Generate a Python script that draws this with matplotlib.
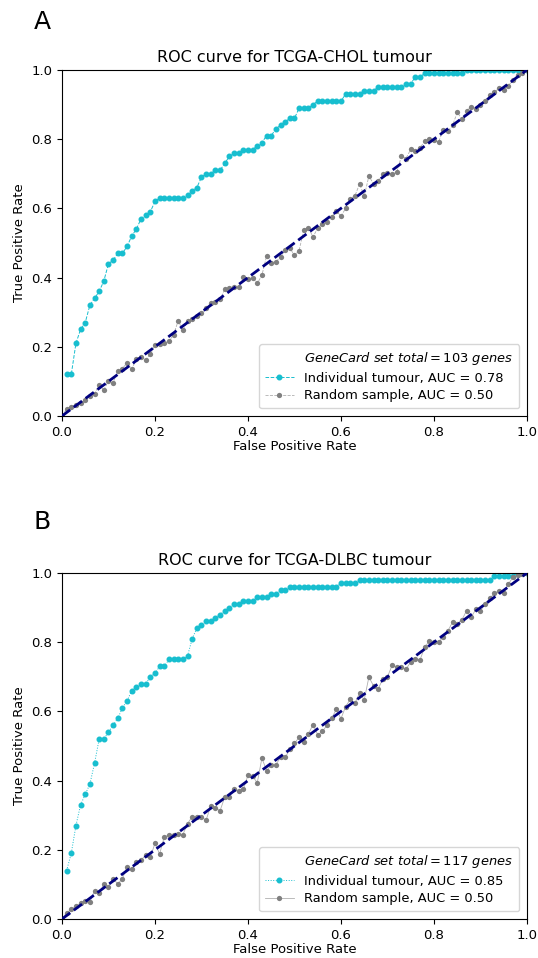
import matplotlib
matplotlib.use("Agg")
import matplotlib.pyplot as plt

# false positive rate grid used by both panels (thresholds every 0.01)
fpr = [i / 100 for i in range(1, 101)]

# panel A - TCGA-CHOL
chol_tpr = [0.12, 0.12, 0.21, 0.25, 0.27, 0.32, 0.34, 0.36, 0.39, 0.44,
            0.45, 0.47, 0.47, 0.49, 0.52, 0.54, 0.57, 0.58, 0.59, 0.62,
            0.63, 0.63, 0.63, 0.63, 0.63, 0.63, 0.64, 0.65, 0.66, 0.69,
            0.70, 0.70, 0.71, 0.71, 0.73, 0.75, 0.76, 0.76, 0.77, 0.77,
            0.77, 0.78, 0.79, 0.81, 0.81, 0.83, 0.84, 0.85, 0.86, 0.86,
            0.89, 0.89, 0.89, 0.90, 0.91, 0.91, 0.91, 0.91, 0.91, 0.91,
            0.93, 0.93, 0.93, 0.93, 0.94, 0.94, 0.94, 0.95, 0.95, 0.95,
            0.95, 0.95, 0.95, 0.96, 0.96, 0.98, 0.98, 0.99, 0.99, 0.99,
            0.99, 0.99, 0.99, 0.99, 0.99, 0.99, 1.00, 1.00, 1.00, 1.00,
            1.00, 1.00, 1.00, 1.00, 1.00, 1.00, 1.00, 1.00, 1.00, 1.00]
chol_rand = [0.020, 0.027, 0.033, 0.038, 0.046, 0.058, 0.064, 0.090, 0.075, 0.102,
             0.096, 0.131, 0.137, 0.154, 0.135, 0.164, 0.171, 0.162, 0.179, 0.204,
             0.208, 0.212, 0.216, 0.235, 0.275, 0.247, 0.274, 0.279, 0.290, 0.297,
             0.312, 0.326, 0.330, 0.337, 0.366, 0.370, 0.374, 0.372, 0.401, 0.397,
             0.399, 0.383, 0.407, 0.462, 0.443, 0.445, 0.460, 0.480, 0.485, 0.464,
             0.478, 0.538, 0.544, 0.517, 0.544, 0.554, 0.561, 0.575, 0.593, 0.577,
             0.600, 0.628, 0.636, 0.671, 0.635, 0.693, 0.671, 0.678, 0.699, 0.702,
             0.699, 0.704, 0.751, 0.744, 0.771, 0.765, 0.775, 0.794, 0.800, 0.797,
             0.792, 0.827, 0.823, 0.840, 0.877, 0.859, 0.881, 0.894, 0.888, 0.900,
             0.910, 0.929, 0.935, 0.948, 0.942, 0.955, 0.970, 0.985, 0.992, 1.000]

# panel B - TCGA-DLBC
dlbc_tpr = [0.14, 0.19, 0.27, 0.33, 0.36, 0.39, 0.45, 0.52, 0.52, 0.54,
            0.56, 0.58, 0.61, 0.63, 0.66, 0.67, 0.68, 0.68, 0.70, 0.71,
            0.73, 0.73, 0.75, 0.75, 0.75, 0.75, 0.76, 0.81, 0.84, 0.85,
            0.86, 0.86, 0.87, 0.88, 0.89, 0.90, 0.91, 0.91, 0.92, 0.92,
            0.92, 0.93, 0.93, 0.93, 0.94, 0.94, 0.95, 0.95, 0.96, 0.96,
            0.96, 0.96, 0.96, 0.96, 0.96, 0.96, 0.96, 0.96, 0.96, 0.97,
            0.97, 0.97, 0.97, 0.98, 0.98, 0.98, 0.98, 0.98, 0.98, 0.98,
            0.98, 0.98, 0.98, 0.98, 0.98, 0.98, 0.98, 0.98, 0.98, 0.98,
            0.98, 0.98, 0.98, 0.98, 0.98, 0.98, 0.98, 0.98, 0.98, 0.98,
            0.98, 0.98, 0.99, 0.99, 0.99, 0.99, 0.99, 1.00, 1.00, 1.00]
dlbc_rand = [0.018, 0.028, 0.037, 0.045, 0.053, 0.049, 0.082, 0.074, 0.101, 0.093,
             0.117, 0.101, 0.117, 0.151, 0.144, 0.166, 0.171, 0.184, 0.178, 0.219,
             0.188, 0.238, 0.242, 0.242, 0.246, 0.244, 0.275, 0.296, 0.296, 0.294,
             0.286, 0.327, 0.321, 0.313, 0.352, 0.354, 0.375, 0.371, 0.375, 0.415,
             0.412, 0.394, 0.465, 0.429, 0.444, 0.446, 0.467, 0.467, 0.490, 0.508,
             0.525, 0.512, 0.535, 0.562, 0.533, 0.542, 0.560, 0.580, 0.606, 0.579,
             0.614, 0.635, 0.623, 0.654, 0.633, 0.699, 0.674, 0.665, 0.694, 0.700,
             0.733, 0.727, 0.727, 0.722, 0.743, 0.750, 0.749, 0.785, 0.804, 0.800,
             0.800, 0.816, 0.833, 0.858, 0.854, 0.864, 0.891, 0.872, 0.895, 0.891,
             0.910, 0.927, 0.941, 0.949, 0.943, 0.968, 0.988, 0.994, 0.997, 1.000]

panels = [
    ("A", "TCGA-CHOL", chol_tpr, chol_rand, 103, 0.78, 0.50, "--", "--"),
    ("B", "TCGA-DLBC", dlbc_tpr, dlbc_rand, 117, 0.85, 0.50, ":", "-"),
]

fig = plt.figure(figsize=(5.38, 9.58), dpi=100)
boxes = [[0.1152, 0.5658, 0.8643, 0.3612], [0.1152, 0.0407, 0.8643, 0.3612]]
label_y = [0.977, 0.455]

for box, ly, (tag, name, tpr, rand, ngenes, auc, rauc, cls, gls) in zip(boxes, label_y, panels):
    ax = fig.add_axes(box)
    ax.plot([0, 1], [0, 1], color="navy", lw=2, ls="--", zorder=3)
    ax.plot([], [], " ", label=r"$\it{GeneCard\ set\ total} = %d\ \it{genes}$" % ngenes)
    ax.plot(fpr, tpr, color="#17becf", ls=cls, lw=0.7, marker="o", markersize=3.3,
            label="Individual tumour, AUC = %.2f" % auc)
    ax.plot([0] + fpr, [0] + rand, color="#b0b0b0", ls=gls, lw=0.6, marker="o", markersize=3.8,
            markerfacecolor="#808080", markeredgewidth=0,
            label="Random sample, AUC = %.2f" % rauc, zorder=2)
    ax.set_xlim(0, 1)
    ax.set_ylim(0, 1)
    ax.set_title("ROC curve for %s tumour" % name, fontsize=11.5)
    ax.set_xlabel("False Positive Rate", fontsize=9.5, labelpad=1)
    ax.set_ylabel("True Positive Rate", fontsize=9.5)
    ax.tick_params(labelsize=9.5)
    ax.legend(loc="lower right", fontsize=9.4, handlelength=2.2, borderpad=0.45,
              labelspacing=0.35, borderaxespad=0.6)
    fig.text(0.063, ly, tag, fontsize=18, va="center")

fig.savefig("out.png", dpi=100)
